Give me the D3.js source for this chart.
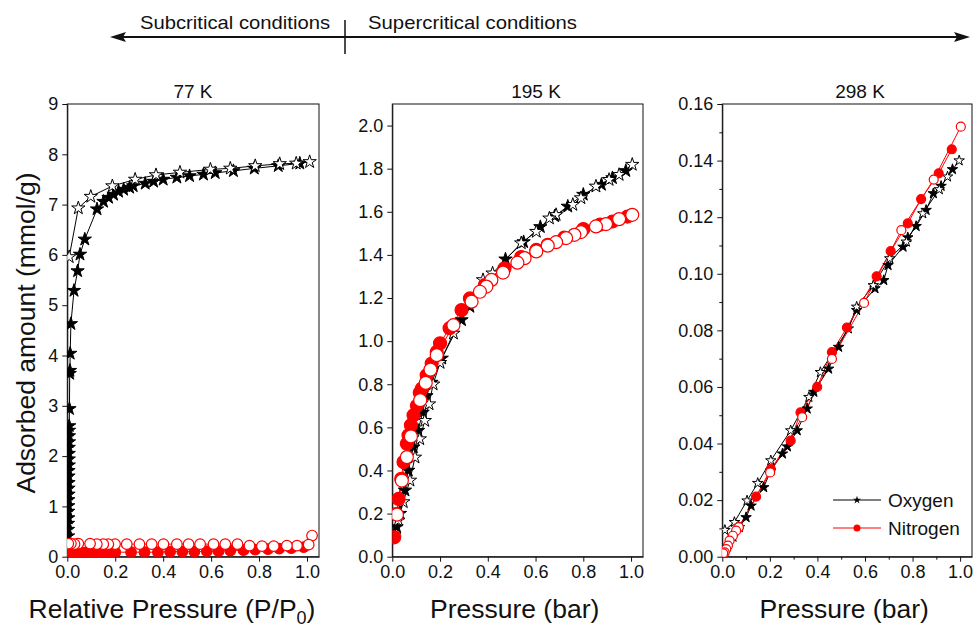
<!DOCTYPE html>
<html>
<head>
<meta charset="utf-8">
<script src="https://cdn.jsdelivr.net/npm/d3@7"></script>
<style>
  body { margin: 0; background: #fff; }
  text { font-family: "Liberation Sans", Arial, sans-serif; fill: #111; }
  .axis text { font-size: 18px; fill: #111; font-family: "Liberation Sans", Arial, sans-serif; }
  .axis path, .axis line { stroke: #111; stroke-width: 1; }
</style>
</head>
<body>
<div id="chart"></div>
<script>
// ---- data ----
// 77 K (x = relative pressure)
var o2_77_ads = [[0.001,0.05],[0.002,0.17],[0.002,0.29],[0.003,0.41],[0.003,0.54],[0.003,0.66],[0.004,0.77],[0.004,0.9],[0.004,1.01],[0.004,1.13],[0.005,1.24],[0.005,1.36],[0.005,1.47],[0.005,1.6],[0.005,1.71],[0.006,1.82],[0.006,1.94],[0.006,2.05],[0.006,2.17],[0.007,2.28],[0.007,2.4],[0.007,2.51],[0.008,2.6],[0.009,2.94],[0.010,3.64],[0.011,3.7],[0.012,4.04],[0.015,4.63],[0.028,5.29],[0.043,5.68],[0.053,6.01],[0.073,6.31],[0.124,6.91],[0.151,7.06],[0.172,7.14],[0.193,7.2],[0.214,7.26],[0.235,7.3],[0.26,7.34],[0.275,7.37],[0.325,7.42],[0.36,7.46],[0.4,7.5],[0.457,7.54],[0.51,7.57],[0.568,7.6],[0.617,7.63],[0.693,7.67],[0.78,7.72],[0.88,7.77],[0.97,7.82]];
var o2_77_des = [[1.011,7.85],[0.955,7.82],[0.886,7.81],[0.784,7.77],[0.68,7.72],[0.597,7.7],[0.47,7.64],[0.37,7.59],[0.283,7.5],[0.188,7.37],[0.098,7.16],[0.046,6.93],[0.008,5.96]];
var n2_77_ads = [[0.003,0.06],[0.01,0.07],[0.02,0.07],[0.03,0.07],[0.045,0.08],[0.06,0.08],[0.075,0.08],[0.09,0.08],[0.105,0.08],[0.12,0.08],[0.135,0.08],[0.15,0.08],[0.165,0.08],[0.18,0.09],[0.2,0.09],[0.266,0.09],[0.322,0.09],[0.378,0.09],[0.429,0.1],[0.48,0.1],[0.53,0.1],[0.582,0.11],[0.631,0.11],[0.68,0.12],[0.735,0.13],[0.784,0.14],[0.837,0.15],[0.884,0.16],[0.934,0.17],[0.986,0.19]];
var n2_77_des = [[1.021,0.42],[1.007,0.24],[0.958,0.22],[0.916,0.22],[0.861,0.21],[0.812,0.21],[0.76,0.22],[0.71,0.25],[0.659,0.25],[0.61,0.25],[0.554,0.25],[0.506,0.25],[0.457,0.25],[0.401,0.25],[0.352,0.25],[0.301,0.25],[0.248,0.25],[0.199,0.25],[0.171,0.25],[0.15,0.25],[0.123,0.25],[0.095,0.26],[0.046,0.26],[0.03,0.25],[0.015,0.26],[0.004,0.26]];

// 195 K (x = pressure, bar)
var o2_195_ads = [[0.008,0.1],[0.018,0.138],[0.032,0.2],[0.053,0.308],[0.067,0.4],[0.088,0.508],[0.108,0.585],[0.127,0.669],[0.143,0.746],[0.164,0.808],[0.207,0.92],[0.29,1.098],[0.325,1.16],[0.4,1.27],[0.474,1.38],[0.55,1.46],[0.62,1.53],[0.68,1.58],[0.735,1.625],[0.8,1.68],[0.876,1.726],[0.922,1.757],[0.978,1.79]];
var o2_195_des = [[1.005,1.819],[0.95,1.772],[0.908,1.749],[0.853,1.718],[0.79,1.664],[0.756,1.633],[0.686,1.586],[0.658,1.57],[0.603,1.508],[0.54,1.455],[0.42,1.315],[0.38,1.284],[0.256,1.036],[0.2,0.9],[0.171,0.8],[0.154,0.708],[0.136,0.631],[0.115,0.546],[0.095,0.461],[0.074,0.354],[0.046,0.254],[0.025,0.169]];
var n2_195_ads = [[0.008,0.09],[0.017,0.198],[0.026,0.268],[0.0375,0.361],[0.047,0.439],[0.061,0.524],[0.068,0.563],[0.078,0.61],[0.089,0.656],[0.103,0.70],[0.115,0.76],[0.124,0.78],[0.144,0.842],[0.165,0.896],[0.186,0.95],[0.2,0.99],[0.24,1.06],[0.29,1.144],[0.325,1.198],[0.3875,1.26],[0.47,1.338],[0.54,1.39],[0.603,1.423],[0.651,1.447],[0.72,1.48],[0.8,1.52],[0.87,1.54],[0.922,1.555],[0.985,1.578]];
var n2_195_des = [[1.005,1.586],[0.95,1.566],[0.895,1.543],[0.853,1.532],[0.79,1.506],[0.7625,1.493],[0.728,1.478],[0.686,1.459],[0.651,1.443],[0.603,1.416],[0.554,1.385],[0.524,1.364],[0.464,1.318],[0.415,1.284],[0.394,1.253],[0.367,1.229],[0.332,1.183],[0.256,1.074],[0.186,0.935],[0.16,0.868],[0.14,0.806],[0.117,0.726],[0.078,0.558],[0.061,0.462],[0.04,0.353],[0.0195,0.195]];

// 298 K (x = pressure, bar)
var o2_298_ads = [[0.01,0.001],[0.045,0.007],[0.072,0.0104],[0.1,0.0139],[0.121,0.018],[0.174,0.0245],[0.204,0.0304],[0.253,0.0364],[0.274,0.0389],[0.315,0.0446],[0.357,0.0523],[0.385,0.0582],[0.447,0.0664],[0.489,0.0741],[0.565,0.0871],[0.642,0.0948],[0.679,0.0977],[0.697,0.103],[0.76,0.1095],[0.78,0.1128],[0.815,0.1168],[0.857,0.1225],[0.8875,0.1284],[0.92,0.131],[0.968,0.1369]];
var o2_298_des = [[0.996,0.14],[0.947,0.1343],[0.9125,0.1298],[0.843,0.1213],[0.774,0.1113],[0.704,0.1054],[0.635,0.0959],[0.565,0.0883],[0.53,0.0806],[0.4125,0.0652],[0.364,0.0564],[0.2875,0.0446],[0.204,0.034],[0.149,0.026],[0.104,0.0198],[0.051,0.0122],[0.011,0.0094]];
var n2_298_ads = [[0.005,0.0008],[0.07,0.0105],[0.142,0.0212],[0.204,0.031],[0.2875,0.041],[0.329,0.051],[0.399,0.06],[0.461,0.0723],[0.524,0.081],[0.649,0.0991],[0.708,0.108],[0.78,0.1178],[0.836,0.1264],[0.91,0.1355],[0.965,0.144]];
var n2_298_des = [[1.003,0.152],[0.889,0.1333],[0.753,0.1154],[0.596,0.0897],[0.461,0.0699],[0.336,0.0493],[0.201,0.0298],[0.0694,0.0104],[0.058,0.0092],[0.0445,0.0074],[0.0306,0.0057],[0.0236,0.0039],[0.0167,0.0027],[0.01,0.0015],[0.004,0.0012]];

// tick values
var xTicks = [0, 0.2, 0.4, 0.6, 0.8, 1.0];
var yTicks77 = [0, 1, 2, 3, 4, 5, 6, 7, 8, 9];
var yTicks195 = [0, 0.2, 0.4, 0.6, 0.8, 1.0, 1.2, 1.4, 1.6, 1.8, 2.0];
var yTicks298 = [0, 0.02, 0.04, 0.06, 0.08, 0.10, 0.12, 0.14, 0.16];
var titles = ["77 K", "195 K", "298 K"];
var legendNames = ["Oxygen", "Nitrogen"];

var W = 977, H = 625;
var svg = d3.select("#chart").append("svg")
  .attr("width", W).attr("height", H);

var panels = [
  { l: 67.3, r: 319, yMax: 9, yTicks: yTicks77, fmt: d3.format("d"), minor: false,
    star: 7, circ: 5.3, titleX: 193, xTitle: "rel",
    series: [o2_77_ads, o2_77_des, n2_77_ads, n2_77_des] },
  { l: 392.3, r: 643, yMax: 2.1, yTicks: yTicks195, fmt: d3.format(".1f"), minor: false,
    star: 7, circ: 6.5, titleX: 536, xTitle: "Pressure (bar)",
    series: [o2_195_ads, o2_195_des, n2_195_ads, n2_195_des] },
  { l: 722.3, r: 972, yMax: 0.16, yTicks: yTicks298, fmt: d3.format(".2f"), minor: true,
    star: 5.5, circ: 4.5, titleX: 860, xTitle: "Pressure (bar)",
    series: [o2_298_ads, o2_298_des, n2_298_ads, n2_298_des] }
];
var plotTop = 104, plotBottom = 556.7;

panels.forEach(function(p, i) {
  var x = d3.scaleLinear().domain([0, 1.05]).range([p.l, p.r]);
  var y = d3.scaleLinear().domain([0, p.yMax]).range([plotBottom, plotTop]);

  // clip
  svg.append("clipPath").attr("id", "clip" + i)
    .append("rect").attr("x", p.l).attr("y", plotTop)
    .attr("width", p.r - p.l).attr("height", plotBottom - plotTop);

  // minor ticks
  if (p.minor) {
    var xm = d3.axisBottom(x).tickValues([0.1, 0.3, 0.5, 0.7, 0.9]).tickSize(3).tickFormat("");
    svg.append("g").attr("class", "axis").attr("transform", "translate(0," + plotBottom + ")").call(xm)
      .select(".domain").remove();
    var ym = d3.axisLeft(y).tickValues([0.01, 0.03, 0.05, 0.07, 0.09, 0.11, 0.13, 0.15]).tickSize(3).tickFormat("");
    svg.append("g").attr("class", "axis").attr("transform", "translate(" + p.l + ",0)").call(ym)
      .select(".domain").remove();
  }

  svg.append("g").attr("class", "axis")
    .attr("transform", "translate(0," + plotBottom + ")")
    .call(d3.axisBottom(x).tickValues(xTicks).tickFormat(d3.format(".1f"))
      .tickSize(5).tickSizeOuter(0).tickPadding(4));

  svg.append("g").attr("class", "axis")
    .attr("transform", "translate(" + p.l + ",0)")
    .call(d3.axisLeft(y).tickValues(p.yTicks).tickFormat(p.fmt)
      .tickSize(5).tickSizeOuter(0).tickPadding(4));

  // frame
  svg.append("rect").attr("x", p.l).attr("y", plotTop)
    .attr("width", p.r - p.l).attr("height", plotBottom - plotTop)
    .attr("fill", "none").attr("stroke", "#111").attr("stroke-width", 1);

  // title
  svg.append("text").attr("x", p.titleX).attr("y", 98)
    .attr("text-anchor", "middle").style("font-size", "19px").text(titles[i]);

  // x title
  var xt = svg.append("text").attr("x", (p.l + p.r) / 2 - 3).attr("y", 618)
    .attr("text-anchor", "middle").style("font-size", "26.5px");
  if (p.xTitle === "rel") {
    xt.attr("x", 172);
    xt.append("tspan").text("Relative Pressure (P/P");
    xt.append("tspan").attr("dy", 6).style("font-size", "18px").text("0");
    xt.append("tspan").attr("dy", -6).text(")");
  } else {
    xt.text(p.xTitle);
  }

  var g = svg.append("g").attr("clip-path", "url(#clip" + i + ")");
  var line = d3.line().x(function(d) { return x(d[0]); }).y(function(d) { return y(d[1]); });
  var colors = ["#000", "#000", "#f00", "#f00"];

  p.series.forEach(function(s, k) {
    g.append("path").datum(s).attr("d", line)
      .attr("fill", "none").attr("stroke", colors[k]).attr("stroke-width", 1);
  });

  // markers: oxygen stars, then nitrogen circles
  var starPath = d3.symbol().type(d3.symbolStar).size(p.star * p.star / 0.8908)();
  p.series.forEach(function(s, k) {
    var filled = (k % 2 === 0);
    var c = colors[k];
    if (k < 2) {
      g.selectAll(null).data(s).enter().append("path")
        .attr("d", starPath)
        .attr("transform", function(d) { return "translate(" + x(d[0]) + "," + y(d[1]) + ")"; })
        .attr("fill", filled ? c : "#fff").attr("stroke", c).attr("stroke-width", 1);
    } else {
      g.selectAll(null).data(s).enter().append("circle")
        .attr("cx", function(d) { return x(d[0]); })
        .attr("cy", function(d) { return y(d[1]); })
        .attr("r", p.circ)
        .attr("fill", filled ? c : "#fff").attr("stroke", c).attr("stroke-width", 1.2);
    }
  });
});

// y title
svg.append("text")
  .attr("transform", "translate(35,333) rotate(-90)")
  .attr("text-anchor", "middle").style("font-size", "26.5px")
  .text("Adsorbed amount (mmol/g)");

// legend (298 K panel)
var legY = [500, 528];
var legStar = d3.symbol().type(d3.symbolStar).size(20)();
legendNames.forEach(function(n, k) {
  var c = k === 0 ? "#000" : "#f00";
  svg.append("line").attr("x1", 833).attr("x2", 881).attr("y1", legY[k]).attr("y2", legY[k])
    .attr("stroke", c).attr("stroke-width", 1);
  if (k === 0) {
    svg.append("path").attr("d", legStar).attr("transform", "translate(857," + legY[k] + ")").attr("fill", c);
  } else {
    svg.append("circle").attr("cx", 857).attr("cy", legY[k]).attr("r", 3.5).attr("fill", c);
  }
  svg.append("text").attr("x", 888).attr("y", legY[k] + 7)
    .style("font-size", "19px").text(n);
});

// top annotation: subcritical / supercritical arrow
var ay = 37;
svg.append("line").attr("x1", 122).attr("x2", 958).attr("y1", ay).attr("y2", ay)
  .attr("stroke", "#111").attr("stroke-width", 2);
svg.append("path").attr("d", "M110," + ay + "L126," + (ay - 5) + "L123," + ay + "L126," + (ay + 5) + "Z").attr("fill", "#111");
svg.append("path").attr("d", "M970," + ay + "L954," + (ay - 5) + "L957," + ay + "L954," + (ay + 5) + "Z").attr("fill", "#111");
svg.append("line").attr("x1", 345).attr("x2", 345).attr("y1", 20).attr("y2", 54)
  .attr("stroke", "#111").attr("stroke-width", 1.5);
svg.append("text").attr("x", 140).attr("y", 29).style("font-size", "19px")
  .attr("textLength", 190).attr("lengthAdjust", "spacingAndGlyphs").text("Subcritical conditions");
svg.append("text").attr("x", 368).attr("y", 29).style("font-size", "19px")
  .attr("textLength", 209).attr("lengthAdjust", "spacingAndGlyphs").text("Supercritical conditions");
</script>
</body>
</html>
